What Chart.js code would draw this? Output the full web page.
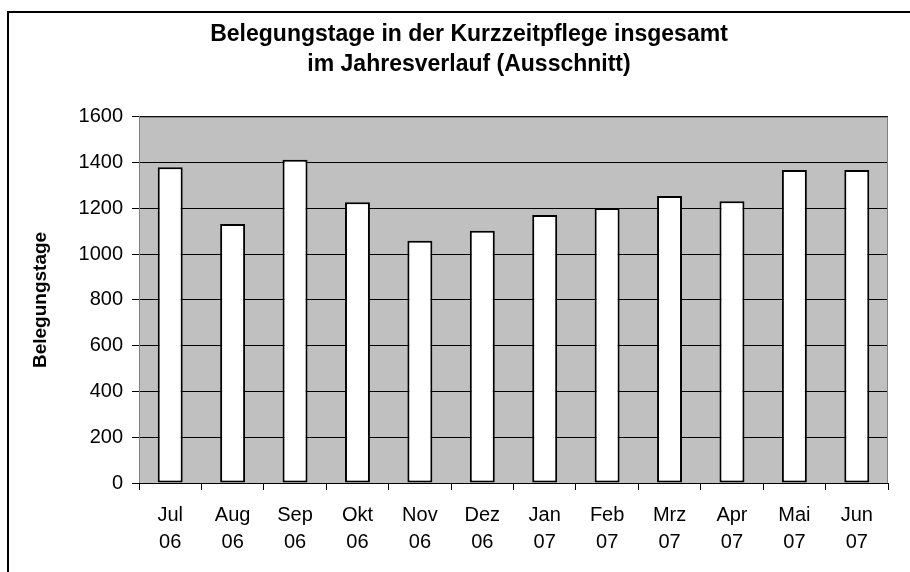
<!DOCTYPE html>
<html>
<head>
<meta charset="utf-8">
<script src="https://cdn.jsdelivr.net/npm/chart.js"></script>
<style>
  body { margin: 0; background: #fff; }
</style>
</head>
<body>
<canvas id="chart" width="910" height="572"></canvas>
<script>
// data
const monthLabels = [['Jul','06'],['Aug','06'],['Sep','06'],['Okt','06'],['Nov','06'],['Dez','06'],
                     ['Jan','07'],['Feb','07'],['Mrz','07'],['Apr','07'],['Mai','07'],['Jun','07']];
const belegungstage = [1380, 1132, 1413, 1227, 1059, 1102, 1171, 1202, 1254, 1231, 1368, 1368];
const yTicksMax = 1600;
const yTickStep = 200;

const FONT = "'Liberation Sans', Arial, sans-serif";

// grey plot background + outer frame like the spreadsheet export
const plotBackground = {
  id: 'plotBackground',
  beforeDraw(chart) {
    const { ctx, chartArea: a } = chart;
    ctx.save();
    ctx.fillStyle = '#c0c0c0';
    ctx.fillRect(a.left, a.top, a.right - a.left, a.bottom - a.top);
    // frame (only left and top edges are inside the picture)
    ctx.strokeStyle = '#000';
    ctx.lineWidth = 2;
    ctx.beginPath();
    ctx.moveTo(8, chart.height);
    ctx.lineTo(8, 12);
    ctx.lineTo(chart.width, 12);
    ctx.stroke();
    ctx.restore();
  },
  afterDatasetsDraw(chart) {
    const { ctx, chartArea: a } = chart;
    ctx.save();
    ctx.strokeStyle = '#808080';
    ctx.lineWidth = 1;
    ctx.strokeRect(a.left + 0.5, a.top + 0.5, a.right - a.left - 1, a.bottom - a.top);
    ctx.strokeStyle = '#000';
    ctx.beginPath();
    ctx.moveTo(a.left - 7, a.bottom + 0.5);
    ctx.lineTo(a.right, a.bottom + 0.5);
    ctx.stroke();
    ctx.restore();
  }
};

const ctx = document.getElementById('chart').getContext('2d');
new Chart(ctx, {
  type: 'bar',
  data: {
    labels: monthLabels,
    datasets: [{
      label: 'Belegungstage',
      data: belegungstage,
      backgroundColor: '#ffffff',
      borderColor: '#000000',
      borderWidth: 2,
      borderSkipped: false,
      barPercentage: 0.4,
      categoryPercentage: 1.0
    }]
  },
  options: {
    responsive: false,
    animation: false,
    devicePixelRatio: 1,
    layout: { padding: { left: 50, right: 22, top: 0, bottom: 0 } },
    plugins: {
      legend: { display: false },
      tooltip: { enabled: false },
      title: {
        display: true,
        text: ['Belegungstage in der Kurzzeitpflege insgesamt', 'im Jahresverlauf (Ausschnitt)'],
        color: '#000',
        font: { family: FONT, size: 23, weight: 'bold', lineHeight: 1.28 },
        padding: { top: 20, bottom: 38 }
      }
    },
    scales: {
      x: {
        afterFit(s) { s.height = 89; },
        grid: { offset: true, drawOnChartArea: false, color: '#000', tickLength: 7 },
        border: { display: false },
        ticks: {
          color: '#000',
          font: { family: FONT, size: 20, lineHeight: 1.35 },
          padding: 12,
          maxRotation: 0,
          autoSkip: false
        }
      },
      y: {
        min: 0,
        max: yTicksMax,
        afterFit(s) { s.width = 89; },
        grid: { color: '#000', lineWidth: 1, tickLength: 7 },
        border: { color: '#808080' },
        ticks: {
          stepSize: yTickStep,
          color: '#000',
          font: { family: FONT, size: 20 },
          padding: 9,
          callback: v => String(v)
        },
        title: {
          display: true,
          text: 'Belegungstage',
          color: '#000',
          font: { family: FONT, size: 19, weight: 'bold' },
          padding: { top: -21, bottom: 0 }
        }
      }
    }
  },
  plugins: [plotBackground]
});
</script>
</body>
</html>
